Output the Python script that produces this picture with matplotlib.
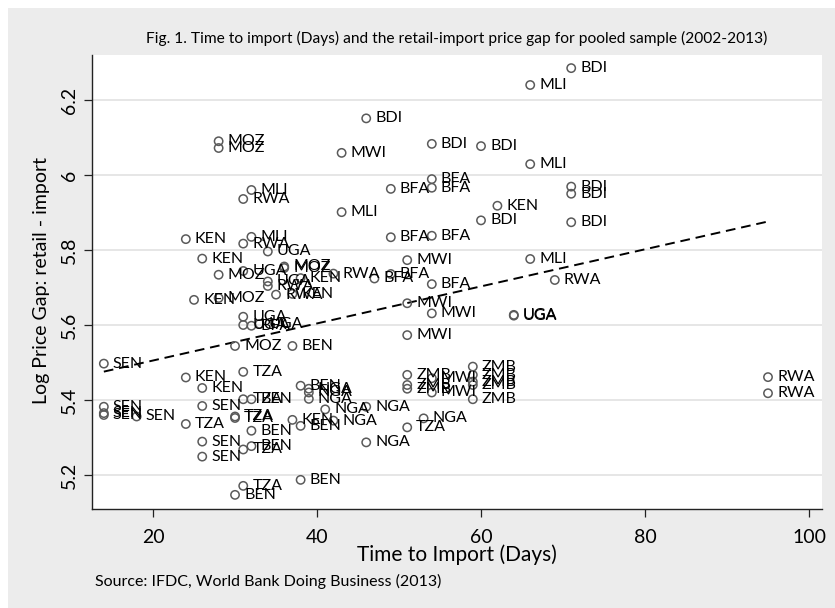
import matplotlib
matplotlib.use("Agg")
import matplotlib.pyplot as plt
from matplotlib.patches import Rectangle
import numpy as np

plt.rcParams['font.family'] = ['Lato', 'DejaVu Sans']

# ---- data ----
days = [71, 66, 46, 28, 28, 43, 54, 60, 66, 54, 54, 49, 71, 71, 32, 31, 62, 43, 60, 71,
        49, 54, 24, 32, 31, 34, 26, 51, 66, 28, 31, 36, 36, 42, 49, 47, 69, 34, 34, 38,
        54, 35, 37, 25, 28, 51, 54, 64, 64, 31, 31, 32, 33, 51, 30, 37, 14, 31, 24, 26,
        38, 39, 39, 39, 31, 32, 26, 14, 14, 14, 18, 41, 46, 30, 30, 37, 38, 42, 24, 32,
        26, 32, 31, 46, 26, 31, 30, 38, 51, 51, 51, 54, 54, 59, 59, 59, 59, 59, 53, 51,
        95, 95]
gap = [6.285, 6.240, 6.151, 6.090, 6.072, 6.059, 6.083, 6.077, 6.029, 5.989, 5.966, 5.963,
       5.969, 5.950, 5.960, 5.936, 5.918, 5.901, 5.879, 5.874,
       5.834, 5.838, 5.829, 5.835, 5.817, 5.796, 5.777, 5.773, 5.776, 5.734, 5.744, 5.756,
       5.752, 5.737, 5.736, 5.724, 5.720, 5.716, 5.704, 5.725,
       5.709, 5.681, 5.683, 5.667, 5.672, 5.658, 5.631, 5.627, 5.625, 5.622, 5.600, 5.598,
       5.603, 5.573, 5.544, 5.544, 5.497, 5.475, 5.460, 5.432,
       5.438, 5.430, 5.420, 5.403, 5.402, 5.402, 5.384, 5.382, 5.365, 5.360, 5.356, 5.375,
       5.382, 5.356, 5.352, 5.347, 5.331, 5.345, 5.336, 5.318,
       5.289, 5.277, 5.268, 5.287, 5.249, 5.171, 5.147, 5.187, 5.467, 5.440, 5.430, 5.458,
       5.420, 5.489, 5.467, 5.449, 5.440, 5.402, 5.351, 5.327,
       5.461, 5.418]
country = ["BDI", "MLI", "BDI", "MOZ", "MOZ", "MWI", "BDI", "BDI", "MLI", "BFA", "BFA", "BFA",
           "BDI", "BDI", "MLI", "RWA", "KEN", "MLI", "BDI", "BDI",
           "BFA", "BFA", "KEN", "MLI", "RWA", "UGA", "KEN", "MWI", "MLI", "MOZ", "UGA", "MOZ",
           "MOZ", "RWA", "BFA", "BFA", "RWA", "UGA", "RWA", "KEN",
           "BFA", "RWA", "KEN", "KEN", "MOZ", "MWI", "MWI", "UGA", "UGA", "UGA", "UGA", "BFA",
           "UGA", "MWI", "MOZ", "BEN", "SEN", "TZA", "KEN", "KEN",
           "BEN", "NGA", "NGA", "NGA", "TZA", "BEN", "SEN", "SEN", "SEN", "SEN", "SEN", "NGA",
           "NGA", "TZA", "TZA", "KEN", "BEN", "NGA", "TZA", "BEN",
           "SEN", "BEN", "TZA", "NGA", "SEN", "TZA", "BEN", "BEN", "ZMB", "ZMB", "ZMB", "MWI",
           "MWI", "ZMB", "ZMB", "ZMB", "ZMB", "ZMB", "NGA", "TZA",
           "RWA", "RWA"]

x_ticks = [20, 40, 60, 80, 100]
y_ticks = [5.2, 5.4, 5.6, 5.8, 6.0, 6.2]
y_ticklabels = ["5.2", "5.4", "5.6", "5.8", "6", "6.2"]

title = "Fig. 1. Time to import (Days) and the retail-import price gap for pooled sample (2002-2013)"
xlabel = "Time to Import (Days)"
ylabel = "Log Price Gap: retail - import"
source = "Source: IFDC, World Bank Doing Business (2013)"

# ---- figure ----
W, H = 835, 608
fig = plt.figure(figsize=(W / 100, H / 100), dpi=100)
fig.patch.set_facecolor("white")
bg = "#ececec"
fig.patches.append(Rectangle((8 / W, 0), 1 - 8 / W, 1 - 8 / H, transform=fig.transFigure,
                             facecolor=bg, edgecolor="none", zorder=-10))

ax = fig.add_axes([91.7 / W, 1 - 509.3 / H, (821.7 - 91.7) / W, (509.3 - 55) / H])
ax.set_facecolor("white")
ax.set_xlim(12.52, 101.55)
ax.set_ylim(5.1085, 6.32)

for s in ["top", "right"]:
    ax.spines[s].set_visible(False)
for s in ["left", "bottom"]:
    ax.spines[s].set_color("#222222")
    ax.spines[s].set_linewidth(1.0)

ax.set_xticks(x_ticks)
ax.set_yticks(y_ticks)
ax.set_yticklabels(y_ticklabels, rotation=90, va="center")
ax.tick_params(axis="both", direction="out", length=6, width=0.9, color="#222222",
               labelsize=14)
ax.tick_params(axis="x", pad=8)
ax.tick_params(axis="y", pad=4)
ax.yaxis.grid(True, color="#e6e6e6", linewidth=1.4)
ax.xaxis.grid(False)
ax.set_axisbelow(True)

ax.scatter(days, gap, s=36, facecolors="none", edgecolors="#5a5a5a", linewidths=1.1, zorder=3)
for xv, yv, lab in zip(days, gap, country):
    ax.annotate(lab, (xv, yv), xytext=(6.5, 0), textcoords="offset points",
                va="center", ha="left", fontsize=11.5, color="black", zorder=4)

# linear fit
xa = np.array(days, dtype=float)
ya = np.array(gap, dtype=float)
b, a = np.polyfit(xa, ya, 1)
xl = np.array([xa.min(), xa.max()])
ax.plot(xl, a + b * xl, color="black", linestyle=(0, (5, 3)), linewidth=1.4, zorder=2)

fig.text((91.7 + 821.7) / 2 / W, 1 - 38 / H, title, ha="center", va="center", fontsize=11.2)
fig.text((91.7 + 821.7) / 2 / W, 1 - 555 / H, xlabel, ha="center", va="center", fontsize=15)
fig.text(42 / W, 1 - 281 / H, ylabel, ha="center", va="center", fontsize=14, rotation=90)
fig.text(95 / W, 1 - 581 / H, source, ha="left", va="center", fontsize=11.5)

fig.savefig("out.png", dpi=100, facecolor=fig.get_facecolor())
